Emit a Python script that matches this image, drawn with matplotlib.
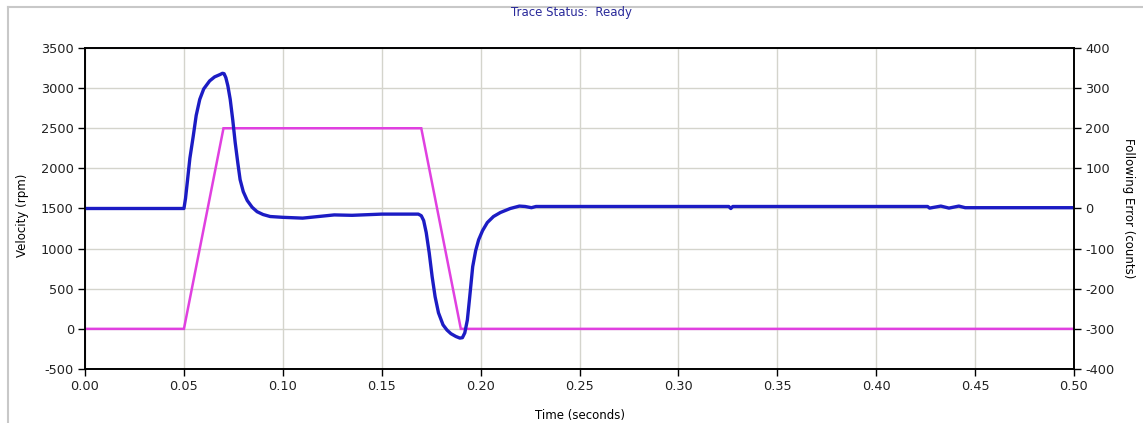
import matplotlib
matplotlib.use('Agg')
import matplotlib.pyplot as plt
from matplotlib.lines import Line2D

# commanded velocity profile (rpm)
vel_time = [0.0, 0.05, 0.07, 0.17, 0.19, 0.50]
vel_rpm = [0, 0, 2500, 2500, 0, 0]

# measured following error (counts)
err_time = [0.0, 0.050, 0.0508, 0.0518, 0.0530, 0.0547, 0.0562, 0.058, 0.060,
            0.063, 0.0655, 0.0683, 0.0695, 0.0703, 0.0712, 0.0722, 0.0734,
            0.0747, 0.0759, 0.0772, 0.0784, 0.080, 0.082, 0.0845, 0.087, 0.090,
            0.0936, 0.100, 0.110, 0.118, 0.126, 0.135, 0.150, 0.1685, 0.1700,
            0.1712, 0.1725, 0.1740, 0.1755, 0.1770, 0.1787, 0.181, 0.183, 0.185,
            0.1875, 0.1895, 0.1908, 0.1920, 0.1933, 0.1945, 0.196, 0.1975, 0.199,
            0.201, 0.2034, 0.2065, 0.210, 0.215, 0.2196, 0.2225, 0.2257, 0.228,
            0.3255, 0.3265, 0.3275, 0.426, 0.427, 0.4327, 0.4368, 0.4418, 0.445,
            0.50]
err_counts = [0, 0, 25, 70, 125, 180, 232, 272, 298,
              318, 328, 334, 337, 336, 326, 306, 272,
              220, 165, 115, 72, 42, 20, 3, -8, -15,
              -20, -22, -24, -20, -16, -17, -14, -14, -18,
              -30, -60, -110, -170, -220, -260, -290, -303, -312,
              -319, -323, -322, -310, -278, -220, -145, -105, -78,
              -55, -35, -20, -10, 0, 6, 5, 2, 5,
              5, 0, 5, 5, 1, 6, 1, 6, 2,
              2]

vel_ticks = list(range(-500, 3501, 500))
err_ticks = list(range(-400, 401, 100))
time_ticks = [i * 0.05 for i in range(11)]

plt.rcParams['font.family'] = ['DejaVu Sans']
plt.rcParams['font.size'] = 9.3
plt.rcParams['axes.unicode_minus'] = False

fig = plt.figure(figsize=(11.43, 4.23), dpi=100)
ax = fig.add_axes([0.0744, 0.1277, 0.8652, 0.7588])
ax2 = ax.twinx()

ax.plot(vel_time, vel_rpm, color='#e040e0', lw=1.8, solid_joinstyle='miter')
ax2.plot(err_time, err_counts, color='#1c1cc4', lw=2.4)

ax.set_xlim(0, 0.5)
ax.set_ylim(-500, 3500)
ax2.set_ylim(-400, 400)
ax.set_xticks(time_ticks)
ax.set_xticklabels(['%.2f' % t for t in time_ticks])
ax.set_yticks(vel_ticks)
ax2.set_yticks(err_ticks)

ax.grid(True, color='#d4d4cc', lw=1)
ax.set_axisbelow(True)

for a in (ax, ax2):
    for s in a.spines.values():
        s.set_color('black')
        s.set_linewidth(1.2)
    a.tick_params(direction='out', length=5, width=1, colors='black',
                  labelcolor='#222222', pad=3)

ax.set_xlabel('Time (seconds)', fontsize=8.5)
ax.xaxis.set_label_coords(0.5, -0.125)
ax.set_ylabel('Velocity (rpm)', fontsize=8.5)
ax.yaxis.set_label_coords(-0.057, 0.48)
ax2.set_ylabel('Following Error (counts)', rotation=-90, fontsize=8.5)
ax2.yaxis.set_label_coords(1.062, 0.5)

fig.text(0.5, 0.97, 'Trace Status:  Ready', ha='center', va='center',
         color='#2a2a9a', fontsize=8.5)

# outer panel border
fig.add_artist(Line2D([8 / 1143, 1.0], [1 - 7 / 423, 1 - 7 / 423],
                      transform=fig.transFigure, color='#c8c8c8', lw=1.5))
fig.add_artist(Line2D([8 / 1143, 8 / 1143], [0.0, 1 - 7 / 423],
                      transform=fig.transFigure, color='#c8c8c8', lw=1.5))

fig.savefig('out.png', dpi=100)
